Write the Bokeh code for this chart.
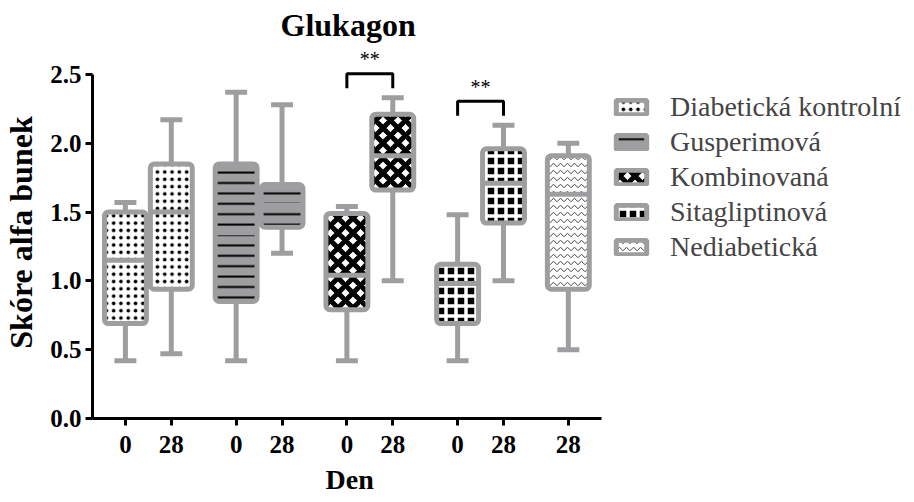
from bokeh.plotting import figure
from bokeh.models import (ColumnDataSource, FixedTicker, Legend, LegendItem, Range1d,
                          PrintfTickFormatter, Title)
from bokeh.core.properties import value
from bokeh.embed import file_html
from bokeh.resources import INLINE

# ---------------- data ----------------
groups = ["Diabetická kontrolní", "Gusperimová", "Kombinovaná", "Sitagliptinová", "Nediabetická"]
days = [["0", "28"], ["0", "28"], ["0", "28"], ["0", "28"], ["28"]]
lower = [[0.42, 0.47], [0.42, 1.20], [0.42, 1.00], [0.42, 1.00], [0.50]]
q1 = [[0.69, 0.94], [0.85, 1.39], [0.79, 1.66], [0.69, 1.42], [0.94]]
median = [[1.15, 1.50], [1.35, 1.55], [1.04, 1.91], [0.98, 1.71], [1.63]]
q3 = [[1.50, 1.85], [1.85, 1.70], [1.49, 2.21], [1.12, 1.96], [1.91]]
upper = [[1.57, 2.17], [2.37, 2.28], [1.54, 2.33], [1.48, 2.13], [2.00]]
sig_groups = [2, 3]
sig_labels = ["**", "**"]
y_ticks = [0.0, 0.5, 1.0, 1.5, 2.0, 2.5]
x_title = "Den"
y_title = "Skóre alfa bunek"
chart_title = "Glukagon"

# ---------------- layout constants ----------------
GRAY = "#9e9ea0"
GROUP_STEP = 111
PAIR_STEP = 46
BOX_W = 42
CAP_W = 22
SERIF = "Liberation Serif"

W, H = 914, 502
LEFT, RIGHT, TOP, BOTTOM = 90, 5, 45, 84
PX_PER_UNIT = 138.0
y_end = (H - TOP - BOTTOM) / PX_PER_UNIT
X_START = -33
AXIS_END = 477

p = figure(width=W, height=H, output_backend="svg", toolbar_location=None,
           x_range=Range1d(X_START, X_START + (W - LEFT - RIGHT)), y_range=Range1d(0, y_end),
           min_border_left=LEFT, min_border_right=RIGHT, min_border_top=TOP,
           min_border_bottom=BOTTOM, title=chart_title)
p.outline_line_color = None
p.grid.visible = False
p.background_fill_color = "white"
p.border_fill_color = "white"

p.title.text_font = SERIF
p.title.text_font_size = "32px"
p.title.text_font_style = "bold"
p.title.text_color = "black"
p.title.align = "left"
p.title.offset = 188
p.title.standoff = 8

styles = [
    dict(fill_color="white", hatch_pattern="dot", hatch_color="black", hatch_scale=7.3, hatch_weight=1),
    dict(fill_color=GRAY, hatch_pattern="horizontal_line", hatch_color="black", hatch_scale=10.4, hatch_weight=2),
    dict(fill_color="white", hatch_pattern="diagonal_cross", hatch_color="black", hatch_scale=15, hatch_weight=5),
    dict(fill_color="black", hatch_pattern="cross", hatch_color="white", hatch_scale=10, hatch_weight=3.5),
    dict(fill_color="white", hatch_pattern="horizontal_wave", hatch_color="#444444", hatch_scale=7, hatch_weight=1),
]

# positions
xs_all, tick_labels = [], {}
positions = []
for g, dl in enumerate(days):
    pos = [g * GROUP_STEP + j * PAIR_STEP for j in range(len(dl))]
    positions.append(pos)
    for x, d in zip(pos, dl):
        xs_all.append(x)
        tick_labels[x] = d

# whiskers and caps
wx, wy0, wy1 = [], [], []
cx0, cx1, cy = [], [], []
for g in range(len(groups)):
    for j, x in enumerate(positions[g]):
        wx += [x, x]
        wy0 += [lower[g][j], q3[g][j]]
        wy1 += [q1[g][j], upper[g][j]]
        cx0 += [x - CAP_W / 2, x - CAP_W / 2]
        cx1 += [x + CAP_W / 2, x + CAP_W / 2]
        cy += [lower[g][j], upper[g][j]]
p.segment(x0=wx, y0=wy0, x1=wx, y1=wy1, line_color=GRAY, line_width=5)
p.segment(x0=cx0, y0=cy, x1=cx1, y1=cy, line_color=GRAY, line_width=5)

items = []
med_x0, med_x1, med_y = [], [], []
for g, name in enumerate(groups):
    src = ColumnDataSource(dict(
        left=[x - BOX_W / 2 for x in positions[g]],
        right=[x + BOX_W / 2 for x in positions[g]],
        top=q3[g], bottom=q1[g]))
    r = p.quad(left="left", right="right", top="top", bottom="bottom", source=src,
               line_color=GRAY, line_width=5, border_radius=4, **styles[g])
    items.append(LegendItem(label=name, renderers=[r]))
    for j, x in enumerate(positions[g]):
        med_x0.append(x - BOX_W / 2)
        med_x1.append(x + BOX_W / 2)
        med_y.append(median[g][j])
p.segment(x0=med_x0, y0=med_y, x1=med_x1, y1=med_y, line_color=GRAY, line_width=5)

# significance brackets
for g, lab in zip(sig_groups, sig_labels):
    xa, xb = positions[g][0], positions[g][1]
    top_w = max(upper[g])
    yb, yt = top_w + 0.07, top_w + 0.175
    p.line(x=[xa, xa, xb, xb], y=[yb, yt, yt, yb], line_color="black", line_width=3)
    p.text(x=[(xa + xb) / 2], y=[top_w + 0.28], text=[lab], text_font=value(SERIF),
           text_font_size="20px", text_align="center", text_baseline="middle", text_color="black")

# axes
xa_ = p.xaxis[0]
xa_.ticker = FixedTicker(ticks=xs_all)
xa_.major_label_overrides = tick_labels
xa_.bounds = (X_START, AXIS_END)
ya_ = p.yaxis[0]
ya_.ticker = FixedTicker(ticks=y_ticks)
ya_.formatter = PrintfTickFormatter(format="%.1f")
ya_.bounds = (0, 2.5)
for ax in (xa_, ya_):
    ax.axis_line_width = 3
    ax.axis_line_color = "black"
    ax.major_tick_line_width = 3
    ax.major_tick_line_color = "black"
    ax.major_tick_out = 7
    ax.major_tick_in = 0
    ax.minor_tick_line_color = None
    ax.major_label_text_font = SERIF
    ax.major_label_text_font_style = "bold"
    ax.major_label_text_font_size = "25px"
    ax.major_label_text_color = "black"
    ax.axis_label_text_font = SERIF
    ax.axis_label_text_font_style = "bold"
    ax.axis_label_text_color = "black"
ya_.axis_label = y_title
ya_.axis_label_text_font_size = "32px"
xa_.major_label_standoff = 10
ya_.major_label_standoff = 4
ya_.axis_label_standoff = 8

# x-axis title centred under the drawn axis line (placed as a title below the axis)
x_label = Title(text=x_title, align="left", offset=(X_START + AXIS_END) / 2 - X_START - 22,
                text_font=SERIF, text_font_size="28px", text_font_style="bold",
                text_color="black", standoff=12)
p.add_layout(x_label, "below")

legend = Legend(items=items, location=(520, 155), orientation="vertical",
                glyph_width=38, glyph_height=18, label_standoff=20,
                label_text_font=SERIF, label_text_font_size="28px", label_height=22,
                spacing=3, padding=0, margin=0, border_line_color=None,
                background_fill_alpha=0)
p.add_layout(legend)

open("out.html", "w").write(file_html(p, INLINE))
